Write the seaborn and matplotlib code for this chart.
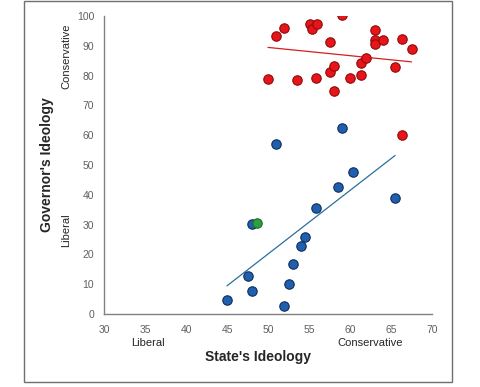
import matplotlib
matplotlib.use("Agg")
import matplotlib.pyplot as plt
from matplotlib.patches import Rectangle
import seaborn as sns
import pandas as pd

# governors classed as conservative (red)
red_state = [50.0, 51.0, 52.0, 53.5, 55.1, 55.4, 56.0, 55.9, 57.6, 57.6, 58.0, 58.0,
             59.0, 60.0, 61.4, 61.95, 61.4, 63.0, 63.0, 63.1, 64.0, 65.5, 66.4, 67.5, 66.4]
red_gov = [79.0, 93.4, 96.1, 78.6, 97.4, 95.7, 97.3, 79.2, 91.3, 81.3, 83.3, 74.7,
           100.4, 79.2, 84.1, 86.0, 80.3, 95.4, 92.1, 90.5, 92.1, 82.9, 92.4, 89.0, 60.2]

# governors classed as liberal (blue)
blue_state = [59.0, 51.0, 60.4, 58.5, 65.5, 55.9, 48.0, 54.5, 54.0, 53.0, 47.6, 52.5, 48.0, 45.0, 52.0]
blue_gov = [62.5, 57.1, 47.8, 42.6, 39.0, 35.7, 30.3, 25.9, 22.9, 16.9, 12.9, 10.2, 7.7, 4.8, 2.8]

# the one independent (green)
green_state = [48.6]
green_gov = [30.6]

red_df = pd.DataFrame({"state": red_state, "gov": red_gov})
blue_df = pd.DataFrame({"state": blue_state, "gov": blue_gov})
green_df = pd.DataFrame({"state": green_state, "gov": green_gov})

sns.set_style("white")
plt.rcParams["font.family"] = ["Liberation Sans", "DejaVu Sans"]

fig = plt.figure(figsize=(4.8, 3.87), dpi=100)
ax = fig.add_axes([0.2167, 0.1886, 0.6833, 0.7701])

dot = dict(s=46, linewidth=0.8, zorder=3)
sns.scatterplot(data=red_df, x="state", y="gov", ax=ax, color="#e8141a", edgecolor="#8a0c0c", **dot)
sns.scatterplot(data=blue_df, x="state", y="gov", ax=ax, color="#1f5fae", edgecolor="#0f2f5c", **dot)
sns.scatterplot(data=green_df, x="state", y="gov", ax=ax, color="#2e9e42", edgecolor="#1d6b2b", **dot)

sns.regplot(data=red_df, x="state", y="gov", ax=ax, scatter=False, ci=None, truncate=True,
            line_kws=dict(color="#d42020", linewidth=0.9, zorder=2))
sns.regplot(data=blue_df, x="state", y="gov", ax=ax, scatter=False, ci=None, truncate=True,
            line_kws=dict(color="#2a6f9e", linewidth=0.9, zorder=2))

ax.set_xlim(30, 70)
ax.set_ylim(0, 100)
ax.set_xticks(range(30, 71, 5))
ax.set_yticks(range(0, 101, 10))
ax.set_xlabel("")
ax.set_ylabel("")
for side in ["top", "right"]:
    ax.spines[side].set_visible(False)
for side in ["left", "bottom"]:
    ax.spines[side].set_color("#808080")
    ax.spines[side].set_linewidth(1)
ax.tick_params(axis="both", direction="out", length=4, width=1, color="#808080",
               labelcolor="#606060", labelsize=7.5, pad=3)
ax.tick_params(axis="x", pad=4)

# axis titles and end labels
fig.text(47 / 480, 1 - 165 / 387, "Governor's Ideology", rotation=90, fontsize=10,
         fontweight="bold", ha="center", va="center")
fig.text(66 / 480, 1 - 56 / 387, "Conservative", rotation=90, fontsize=8, ha="center", va="center")
fig.text(66 / 480, 1 - 230 / 387, "Liberal", rotation=90, fontsize=8, ha="center", va="center")
fig.text(258 / 480, 1 - 357 / 387, "State's Ideology", fontsize=10, fontweight="bold",
         ha="center", va="center")
fig.text(148 / 480, 1 - 343 / 387, "Liberal", fontsize=8, ha="center", va="center")
fig.text(370 / 480, 1 - 343 / 387, "Conservative", fontsize=8, ha="center", va="center")

fig.patches.append(Rectangle((24 / 480, 1 - 382 / 387), 428 / 480, 381 / 387,
                             transform=fig.transFigure, fill=False, edgecolor="#707070",
                             linewidth=1))

fig.savefig("out.png", dpi=100)
